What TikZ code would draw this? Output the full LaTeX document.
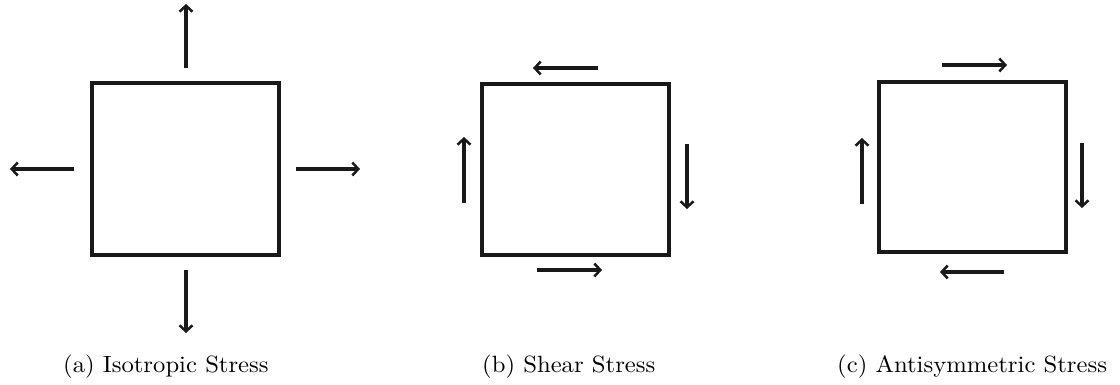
\documentclass[tikz,border=0pt]{standalone}
\usepackage{fontspec}
\newfontfamily\capfont{lmroman10-regular.otf}[FakeStretch=1.05]
\usetikzlibrary{arrows.meta}
\begin{document}
\begin{tikzpicture}[x=1pt,y=-1pt,
  box/.style={draw=black!90,line width=4pt,inner sep=0pt,minimum width=187pt,minimum height=171pt},
  force/.style={draw=black!90,line width=4pt,-{Straight Barb[length=6pt,width=13pt,line width=2.5pt]}},
  captxt/.style={anchor=base west,inner sep=0pt,font=\capfont\fontsize{23.5}{28}\selectfont}]
\useasboundingbox (0,0) rectangle (1120,385);
% (a)
\node[box] (A) at (185.5,169) {};
\coordinate (a1) at (186,68); \coordinate (a2) at (186,4);
\coordinate (a3) at (186,270); \coordinate (a4) at (186,333);
\coordinate (a5) at (74,169); \coordinate (a6) at (10,169);
\coordinate (a7) at (296,169); \coordinate (a8) at (360,169);
\draw[force] (a1) -- (a2);
\draw[force] (a3) -- (a4);
\draw[force] (a5) -- (a6);
\draw[force] (a7) -- (a8);
\node[captxt] (ca) at (63,372) {(a) Isotropic Stress};
% (b)
\node[box] (B) at (575,169.5) {};
\coordinate (b1) at (598,68); \coordinate (b2) at (533,68);
\coordinate (b3) at (537,270); \coordinate (b4) at (602,270);
\coordinate (b5) at (464,203); \coordinate (b6) at (464,137);
\coordinate (b7) at (687,144); \coordinate (b8) at (687,209);
\draw[force] (b1) -- (b2);
\draw[force] (b3) -- (b4);
\draw[force] (b5) -- (b6);
\draw[force] (b7) -- (b8);
\node[captxt] (cb) at (482,372) {(b) Shear Stress};
% (c)
\node[box,minimum height=169pt] (C) at (972.5,167) {};
\coordinate (c1) at (942,65); \coordinate (c2) at (1007,65);
\coordinate (c3) at (1004,272); \coordinate (c4) at (940,272);
\coordinate (c5) at (862,204); \coordinate (c6) at (862,138);
\coordinate (c7) at (1082,143); \coordinate (c8) at (1082,208);
\draw[force] (c1) -- (c2);
\draw[force] (c3) -- (c4);
\draw[force] (c5) -- (c6);
\draw[force] (c7) -- (c8);
\node[captxt] (cc) at (837,372) {(c) Antisymmetric Stress};
\end{tikzpicture}
\end{document}
